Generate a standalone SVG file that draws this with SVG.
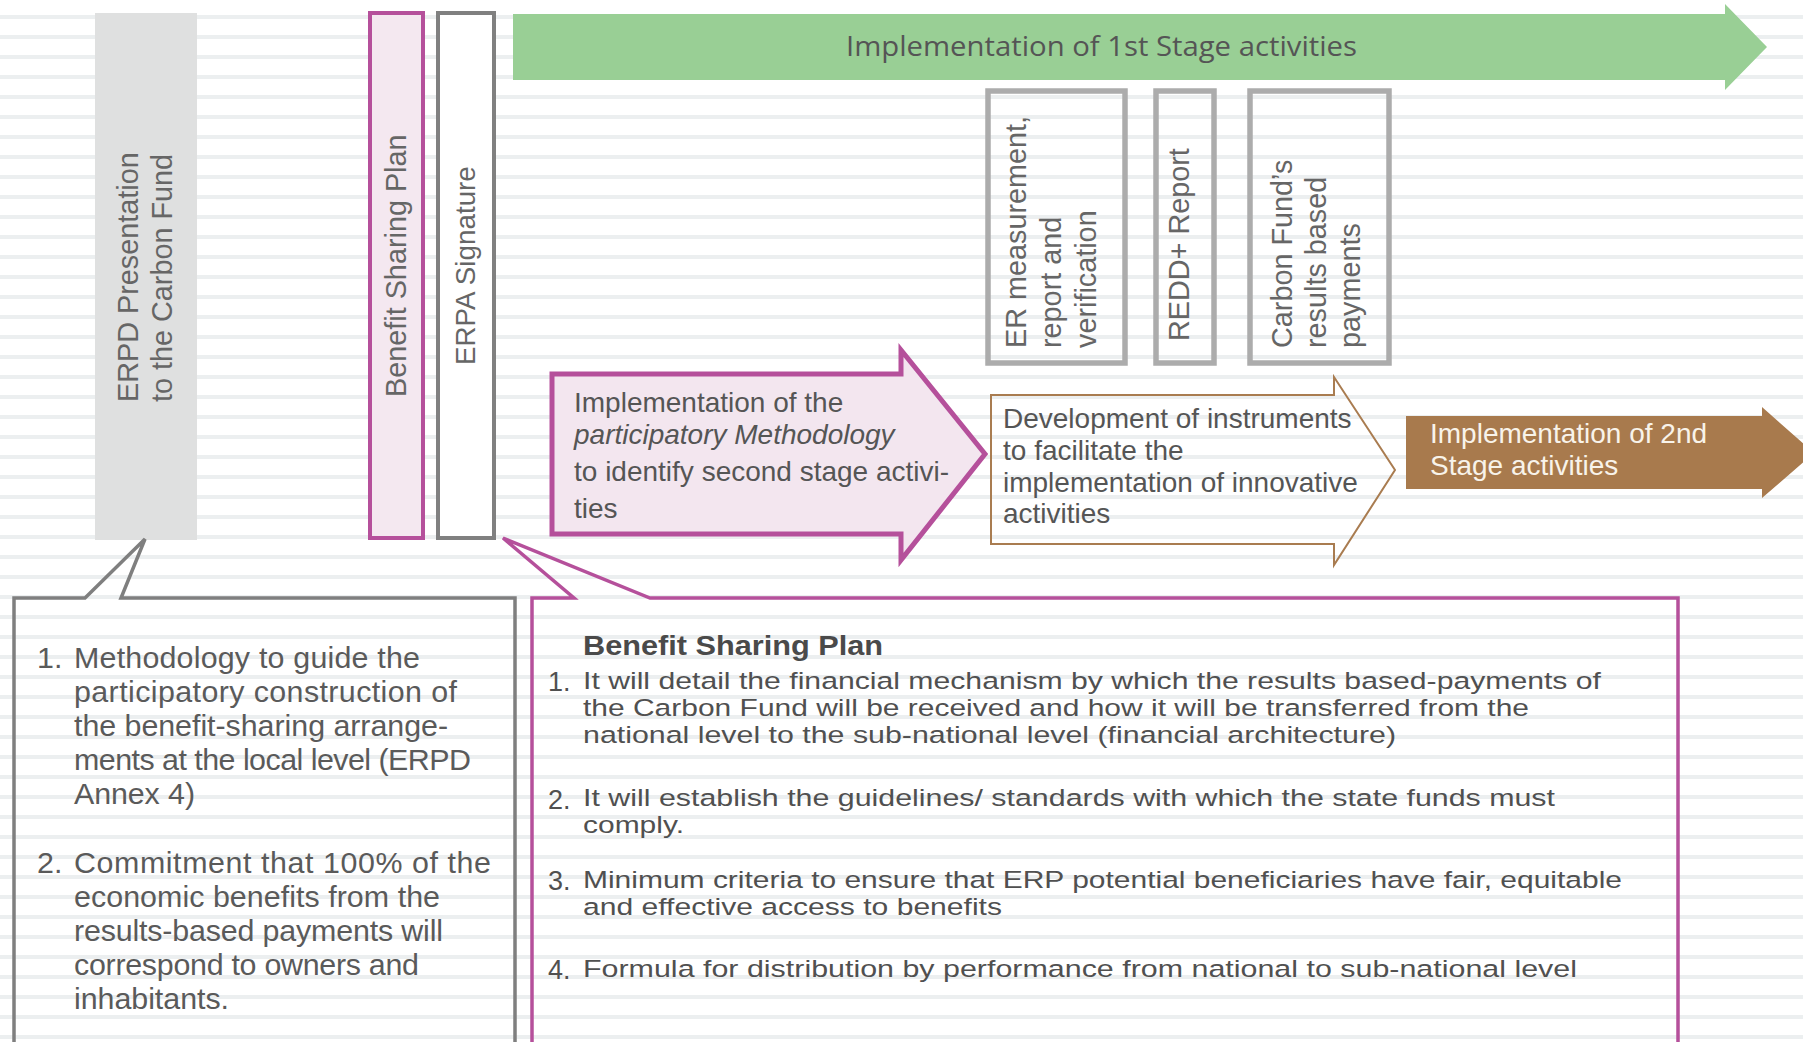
<svg xmlns="http://www.w3.org/2000/svg" width="1803" height="1042" viewBox="0 0 1803 1042">
  <defs>
    <pattern id="stripes" patternUnits="userSpaceOnUse" x="0" y="0" width="1803" height="20">
      <rect x="0" y="15" width="1803" height="4" fill="#eceff0"/>
    </pattern>
    <style>
      .t { font-family: "Liberation Sans", Arial, sans-serif; fill: #5a5a5a; }
      .v { font-size: 28.8px; fill: #666666; }
      .mid { font-size: 28px; fill: #555555; }
      .body { font-size: 30.4px; }
      .cond { font-family: "Liberation Sans Narrow", "Liberation Sans", sans-serif; font-size: 24.5px; fill: #505050; }
      .num { font-family: "Liberation Sans", Arial, sans-serif; font-size: 27px; fill: #505050; }
      .lgbox { fill: none; stroke: #acacac; stroke-width: 5.5; }
    </style>
  </defs>

  <rect width="1803" height="1042" fill="#ffffff"/>
  <rect width="1803" height="1042" fill="url(#stripes)"/>

  <g id="erpd-presentation">
    <rect x="95" y="13" width="102" height="527" fill="#dfe0e0"/>
    <text class="t v" transform="translate(137.5,402) rotate(-90)">
      <tspan x="0" y="0">ERPD Presentation</tspan>
      <tspan x="0" dy="34">to the Carbon Fund</tspan>
    </text>
  </g>

  <g id="benefit-sharing-plan-bar">
    <rect x="370" y="13" width="53" height="525" fill="#f4e8f0" stroke="#b5509b" stroke-width="4"/>
    <text class="t v" transform="translate(406,397) rotate(-90)">Benefit Sharing Plan</text>
  </g>

  <g id="erpa-signature">
    <rect x="438" y="13" width="56" height="525" fill="#ffffff" stroke="#808080" stroke-width="4"/>
    <text class="t v" transform="translate(475,365) rotate(-90)" style="font-size:27.8px">ERPA Signature</text>
  </g>

  <g id="stage1">
    <path d="M513,14 L1725,14 L1725,4 L1767,47 L1725,90 L1725,80 L513,80 Z" fill="#99cf95"/>
    <text x="846" y="56" style="font-family:'Open Sans','Liberation Sans',sans-serif;font-size:28px;fill:#555555" textLength="511" lengthAdjust="spacingAndGlyphs">Implementation of 1st Stage activities</text>
  </g>

  <g id="er-mrv">
    <rect class="lgbox" x="988" y="91" width="137" height="272"/>
    <text class="t v" transform="translate(1026,348) rotate(-90)">
      <tspan x="0" y="0">ER measurement,</tspan>
      <tspan x="0" dy="35">report and</tspan>
      <tspan x="0" dy="35">verification</tspan>
    </text>
  </g>

  <g id="redd-report">
    <rect class="lgbox" x="1156" y="91" width="58" height="272"/>
    <text class="t v" transform="translate(1189,341) rotate(-90)">REDD+ Report</text>
  </g>

  <g id="carbon-fund-payments">
    <rect class="lgbox" x="1250" y="91" width="139" height="272"/>
    <text class="t v" transform="translate(1292,348) rotate(-90)">
      <tspan x="0" y="0">Carbon Fund’s</tspan>
      <tspan x="0" dy="34">results based</tspan>
      <tspan x="0" dy="34">payments</tspan>
    </text>
  </g>

  <g id="participatory-methodology">
    <path d="M552,374 L901,374 L901,350 L985,454 L901,560 L901,534 L552,534 Z" fill="#f3e6ef" stroke="#b5509b" stroke-width="5" stroke-linejoin="miter"/>
    <text class="t mid">
      <tspan x="574" y="412">Implementation of the</tspan>
      <tspan x="574" y="444" font-style="italic">participatory Methodology</tspan>
      <tspan x="574" y="481">to identify second stage activi-</tspan>
      <tspan x="574" y="518">ties</tspan>
    </text>
  </g>

  <g id="innovative-instruments">
    <path d="M991,395 L1334,395 L1334,377 L1395,470 L1334,565 L1334,544 L991,544 Z" fill="none" stroke="#a97c50" stroke-width="2"/>
    <text class="t mid">
      <tspan x="1003" y="428">Development of instruments</tspan>
      <tspan x="1003" y="460">to facilitate the</tspan>
      <tspan x="1003" y="491.5">implementation of innovative</tspan>
      <tspan x="1003" y="523">activities</tspan>
    </text>
  </g>

  <g id="stage2">
    <path d="M1406,416 L1762,416 L1762,407 L1814,453 L1762,498 L1762,489 L1406,489 Z" fill="#a87a4d"/>
    <text class="t" style="font-size:28px;fill:#f8f3ea">
      <tspan x="1430" y="443">Implementation of 2nd</tspan>
      <tspan x="1430" y="475">Stage activities</tspan>
    </text>
  </g>

  <g id="connectors">
    <path d="M14,1060 L14,598 L85,598 L145,539 L121,598 L515,598 L515,1060" fill="none" stroke="#7f7f7f" stroke-width="3.5" stroke-linejoin="miter"/>
    <path d="M532,1060 L532,598 L574,598 L503,538 L650,598 L1678,598 L1678,1060" fill="none" stroke="#b5509b" stroke-width="3.5" stroke-linejoin="miter"/>
  </g>

  <g id="erpd-notes">
    <text class="t body">
      <tspan x="37" y="668">1.</tspan>
      <tspan x="74" y="668" textLength="346">Methodology to guide the</tspan>
      <tspan x="74" y="702" textLength="383">participatory construction of</tspan>
      <tspan x="74" y="736" textLength="374">the benefit-sharing arrange-</tspan>
      <tspan x="74" y="770" textLength="397">ments at the local level (ERPD</tspan>
      <tspan x="74" y="804" textLength="121">Annex 4)</tspan>
      <tspan x="37" y="873">2.</tspan>
      <tspan x="74" y="873" textLength="417">Commitment that 100% of the</tspan>
      <tspan x="74" y="907" textLength="366">economic benefits from the</tspan>
      <tspan x="74" y="941" textLength="369">results-based payments will</tspan>
      <tspan x="74" y="975" textLength="345">correspond to owners and</tspan>
      <tspan x="74" y="1009" textLength="155">inhabitants.</tspan>
    </text>
  </g>

  <g id="benefit-sharing-plan-notes">
    <text class="cond" x="583" y="655" style="font-size:28px;font-weight:bold;fill:#4a4a4a" textLength="300" lengthAdjust="spacingAndGlyphs">Benefit Sharing Plan</text>
    <text class="num" x="548" y="691">1.</text>
    <text class="cond">
      <tspan x="583" y="689" textLength="1018" lengthAdjust="spacingAndGlyphs">It will detail the financial mechanism by which the results based-payments of</tspan>
      <tspan x="583" y="716" textLength="946" lengthAdjust="spacingAndGlyphs">the Carbon Fund will be received and how it will be transferred from the</tspan>
      <tspan x="583" y="743" textLength="813" lengthAdjust="spacingAndGlyphs">national level to the sub-national level (financial architecture)</tspan>
    </text>
    <text class="num" x="548" y="809">2.</text>
    <text class="cond">
      <tspan x="583" y="806" textLength="972" lengthAdjust="spacingAndGlyphs">It will establish the guidelines/ standards with which the state funds must</tspan>
      <tspan x="583" y="833" textLength="101" lengthAdjust="spacingAndGlyphs">comply.</tspan>
    </text>
    <text class="num" x="548" y="890">3.</text>
    <text class="cond">
      <tspan x="583" y="888" textLength="1039" lengthAdjust="spacingAndGlyphs">Minimum criteria to ensure that ERP potential beneficiaries have fair, equitable</tspan>
      <tspan x="583" y="915" textLength="419" lengthAdjust="spacingAndGlyphs">and effective access to benefits</tspan>
    </text>
    <text class="num" x="548" y="979">4.</text>
    <text class="cond">
      <tspan x="583" y="977" textLength="994" lengthAdjust="spacingAndGlyphs">Formula for distribution by performance from national to sub-national level</tspan>
    </text>
  </g>
</svg>
